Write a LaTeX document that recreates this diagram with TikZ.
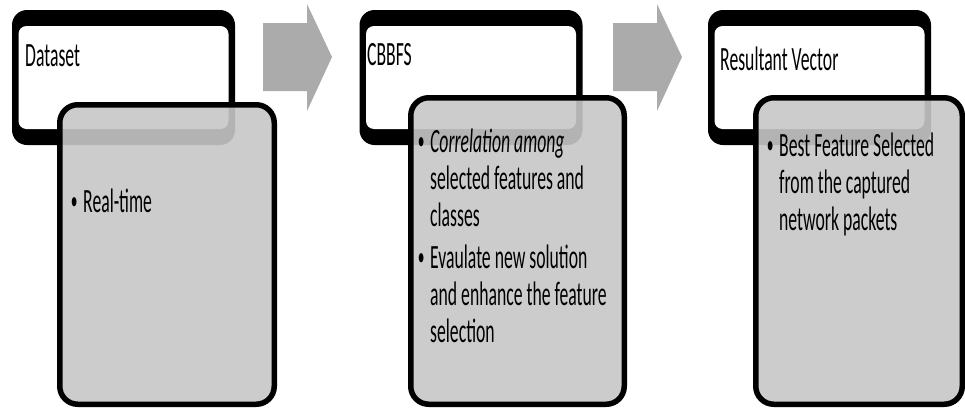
\documentclass[tikz,border=0pt]{standalone}
\usepackage{fontspec}
\newfontfamily\panelfont[FakeStretch=0.52]{Carlito}
\usetikzlibrary{positioning}
\newcommand{\dotitem}{\llap{\raisebox{3pt}{\fontsize{26}{26}\selectfont\textbullet}\,}}

\begin{document}
\begin{tikzpicture}[x=1pt, y=-1pt,
	every node/.style={font=\panelfont\fontsize{34}{37}\selectfont, inner sep=0pt},
	headframe/.style={fill=black, rounded corners=15pt, minimum width=223pt, minimum height=135pt},
	headface/.style={fill=white, rounded corners=8pt, minimum width=210pt, minimum height=103pt},
	bodybox/.style={draw=black, line width=5.5pt, rounded corners=18pt, fill=black!22, fill opacity=0.9},
	itemtext/.style={anchor=north west, align=left}]
	\useasboundingbox (0,0) rectangle (965,407);
	% block arrows between the stages
	\foreach \dx in {0,350} {
		\fill[black!33, shift={(\dx,0)}] (263,23) -- (307,23) -- (307,4) -- (332,57) -- (307,111) -- (307,91) -- (263,91) -- cycle;
	}
	% title boxes (heavy top and bottom edges)
	\node[headframe] (head1) at (123.5,77.5) {};
	\node[headframe] (head2) at (471,77.5) {};
	\node[headframe] (head3) at (819.5,77.5) {};
	\node[headface] (face1) at (head1.center) {};
	\node[headface] (face2) at (head2.center) {};
	\node[headface] (face3) at (head3.center) {};
	% body boxes
	\node[bodybox, minimum width=214.5pt, minimum height=299.5pt] (body1) at (167,254.5) {};
	\node[bodybox, minimum width=213.5pt, minimum height=306.5pt] (body2) at (517.5,251) {};
	\node[bodybox, minimum width=206.5pt, minimum height=306.5pt] (body3) at (859,251) {};
	% titles
	\node[anchor=north west] (title1) at (25,44) {Dataset};
	\node[anchor=north west] (title2) at (367,43) {CBBFS};
	\node[anchor=north west] (title3) at (720,47) {Resultant Vector};
	% bullet texts
	\node[itemtext] (items1) at (83,189) {\dotitem Real-time};
	\node[itemtext] (items2) at (430,129) {\dotitem\textit{Correlation among}\\ selected features and\\ classes\\[5pt]
		\dotitem Evaulate new solution\\ and enhance the feature\\ selection};
	\node[itemtext] (items3) at (779,133) {\dotitem Best Feature Selected\\ from the captured\\ network packets};
\end{tikzpicture}
\end{document}
